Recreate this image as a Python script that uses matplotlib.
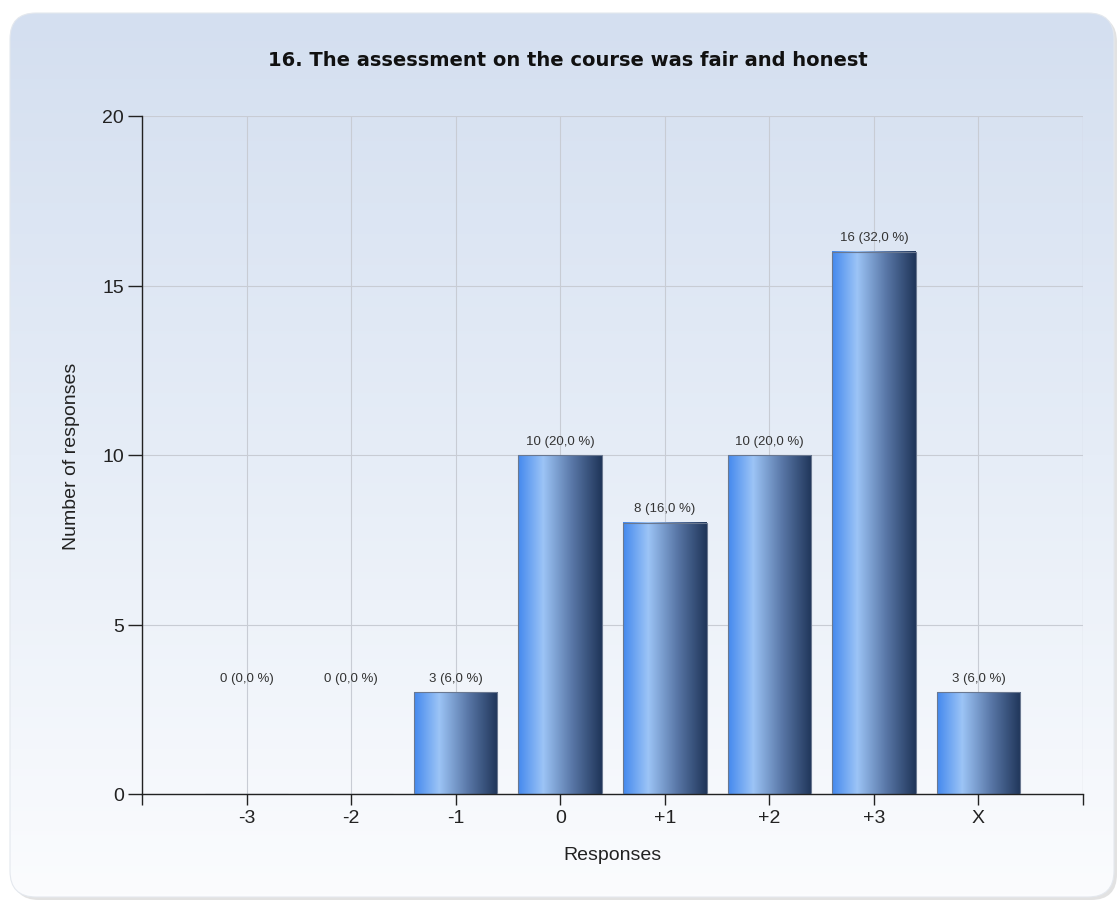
import numpy as np
import matplotlib
matplotlib.use("Agg")
import matplotlib.pyplot as plt
from matplotlib.patches import FancyBboxPatch
from matplotlib.colors import LinearSegmentedColormap

categories = ["-3", "-2", "-1", "0", "+1", "+2", "+3", "X"]
counts = [0, 0, 3, 10, 8, 10, 16, 3]
percents = [0.0, 0.0, 6.0, 20.0, 16.0, 20.0, 32.0, 6.0]
title = "16. The assessment on the course was fair and honest"

plt.rcParams["font.family"] = ["Liberation Sans", "DejaVu Sans"]

fig = plt.figure(figsize=(11.19, 9.03), dpi=100)
fig.patch.set_facecolor("white")

# panel background with vertical gradient and rounded corners
bg = fig.add_axes([0, 0, 1, 1])
bg.set_xlim(0, 1119)
bg.set_ylim(903, 0)
bg.axis("off")
shadow = FancyBboxPatch((13, 17), 1104, 884, boxstyle="round,pad=0,rounding_size=26",
                        facecolor="#e2e2e2", edgecolor="none", zorder=0)
bg.add_patch(shadow)
panel = FancyBboxPatch((10, 14), 1104, 884, boxstyle="round,pad=0,rounding_size=26",
                       facecolor="none", edgecolor="#e4e8ee", linewidth=0.8, zorder=2)
bg.add_patch(panel)
panel_cmap = LinearSegmentedColormap.from_list("panel", ["#d4dff0", "#e6edf7", "#fbfcfe"])
grad = np.linspace(0, 1, 256).reshape(-1, 1)
im = bg.imshow(grad, cmap=panel_cmap, extent=[10, 1114, 898, 14], aspect="auto", zorder=1)
im.set_clip_path(panel)

ax = fig.add_axes([142 / 1119, 1 - 795 / 903, (1083 - 142) / 1119, (795 - 117) / 903])
ax.set_facecolor("none")
x = np.arange(len(categories))
ax.set_xlim(-1, len(categories))
ax.set_ylim(0, 20)

bar_cmap = LinearSegmentedColormap.from_list(
    "bar", [(0, "#4489ee"), (0.3, "#9cc4f6"), (0.65, "#5876a6"), (1, "#1f3559")])
hgrad = np.linspace(0, 1, 256).reshape(1, -1)
bars = ax.bar(x, counts, width=0.8, facecolor="none", edgecolor="#6a7890",
              linewidth=0.8, zorder=3)
for b, c, p in zip(bars, counts, percents):
    if c > 0:
        ax.imshow(hgrad, cmap=bar_cmap, aspect="auto", zorder=2,
                  extent=[b.get_x(), b.get_x() + b.get_width(), 0, c])
    # labels of empty bars sit at a minimum height, as in the original tool
    ax.annotate(f"{c} ({p:.1f} %)".replace(".", ","),
                (b.get_x() + b.get_width() / 2, max(c, 3)), xytext=(0, 6),
                textcoords="offset points", ha="center", va="bottom",
                fontsize=9.5, color="#333333")

ax.set_xticks(list(x) + [-1, len(categories)])
ax.set_xticklabels(categories + ["", ""])
ax.set_yticks([0, 5, 10, 15, 20])
ax.grid(True, color="#c8ccd4", linewidth=0.8, zorder=0)
ax.set_axisbelow(True)
for s in ["top", "right"]:
    ax.spines[s].set_visible(False)
ax.axvline(len(categories), color="#c8ccd4", linewidth=0.8, zorder=0)
for s in ["left", "bottom"]:
    ax.spines[s].set_color("#222222")
    ax.spines[s].set_linewidth(1.0)
ax.tick_params(axis="both", direction="out", length=8, width=1.0, color="#222222",
               labelsize=14, labelcolor="#222222", pad=3)
ax.tick_params(axis="y", length=10)

ax.set_xlabel("Responses", fontsize=14, color="#222222", labelpad=14)
ax.set_ylabel("Number of responses", fontsize=14, color="#222222", labelpad=16)
fig.text(568 / 1119, 1 - 61 / 903, title, ha="center", va="center",
         fontsize=14, fontweight="bold", family="DejaVu Sans", color="#111111")

fig.savefig("out.png", dpi=100)
